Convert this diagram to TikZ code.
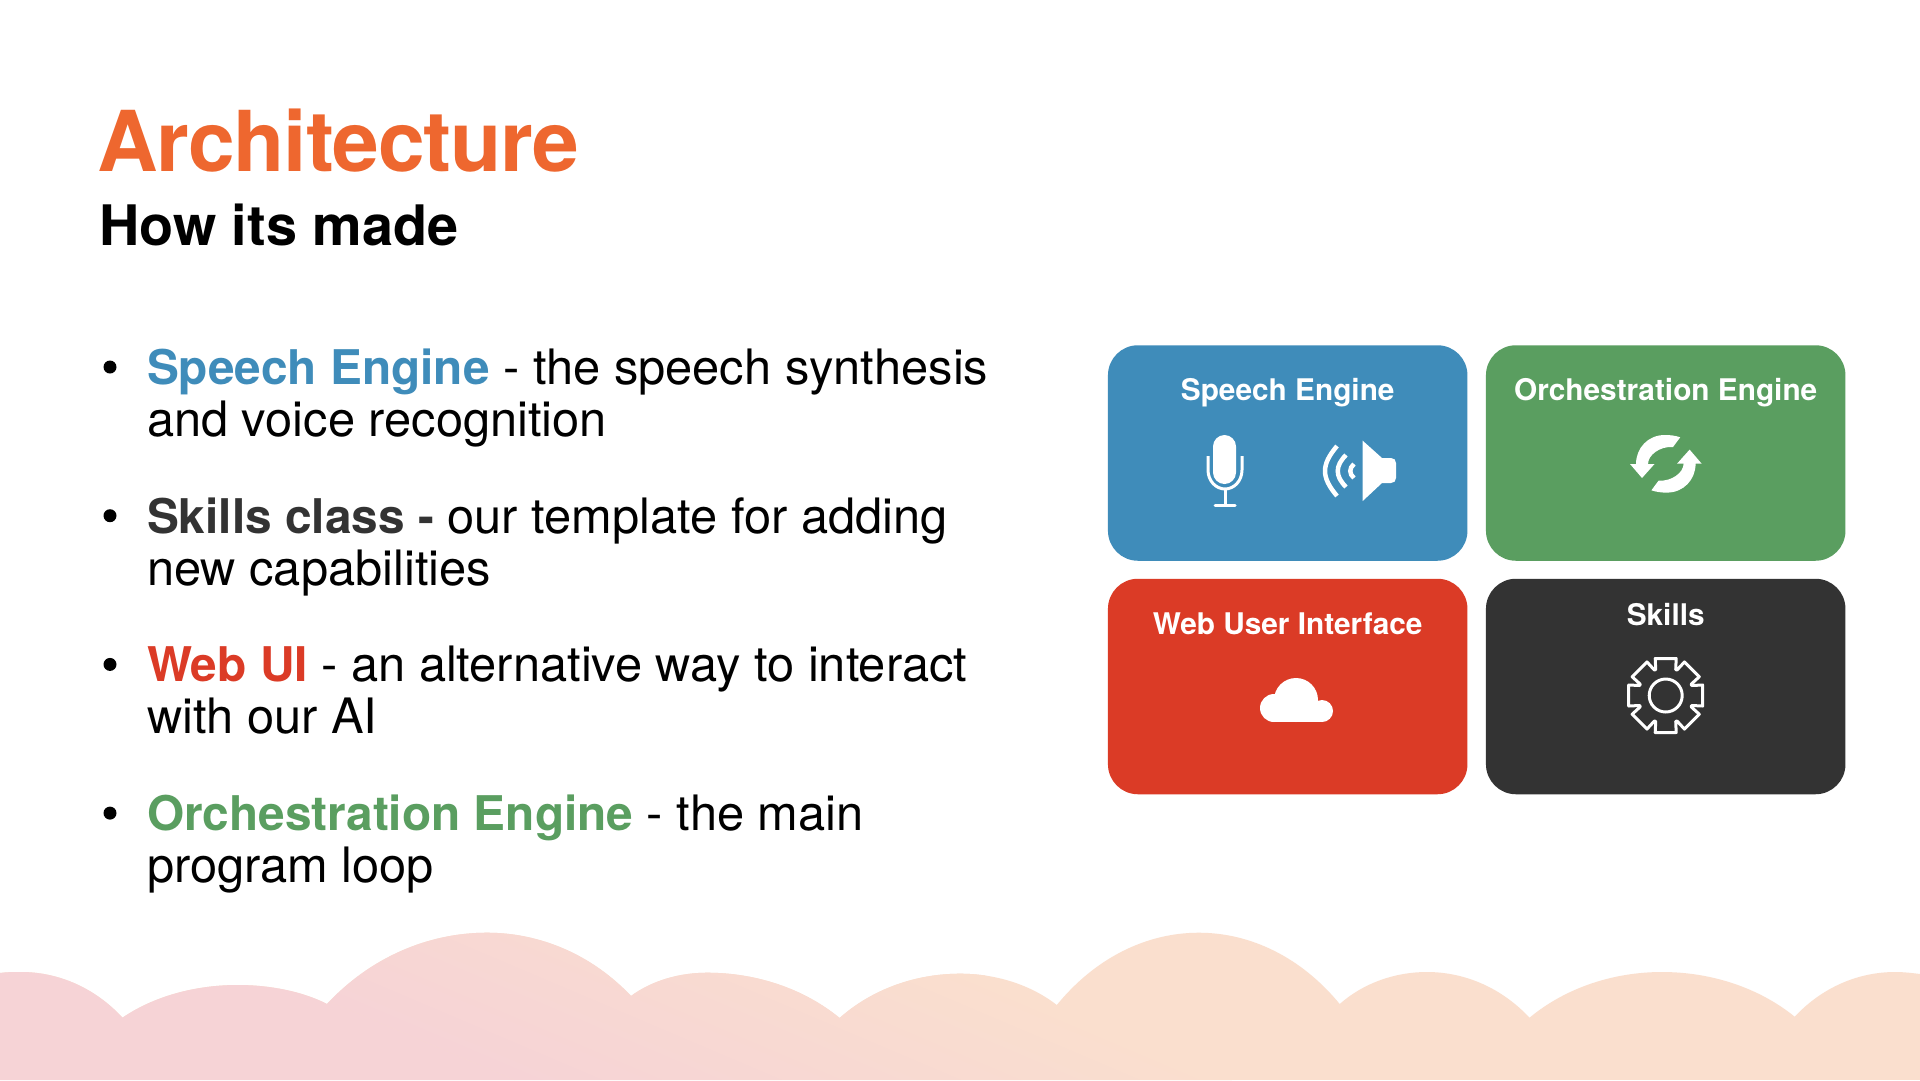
\documentclass[tikz,border=0pt]{standalone}
\usepackage{fontspec}
\setmainfont{TeX Gyre Heros}
\usetikzlibrary{positioning}

\definecolor{archorange}{HTML}{EE672F}
\definecolor{speechblue}{HTML}{3F8CBA}
\definecolor{orchgreen}{HTML}{5A9E60}
\definecolor{webred}{HTML}{DB3B26}
\definecolor{skilldark}{HTML}{333333}
\definecolor{hillpink}{HTML}{F6D3D6}
\definecolor{hillpeach}{HTML}{FADFCE}

\newcommand{\itemstrut}{\rule{0pt}{40pt}}
\newcommand{\itemlead}[2]{\textcolor{#1}{\fontsize{47.8}{52}\selectfont\bfseries #2}}

\tikzset{
  card/.style={rectangle,rounded corners=30pt,minimum width=359.5pt,minimum height=215.5pt,inner sep=0pt,outer sep=0pt},
  cardtitle/.style={text=white,inner sep=0pt,font=\fontsize{29.8}{34}\selectfont\bfseries},
  itemtext/.style={align=left,inner sep=0pt,outer sep=0pt,font=\fontsize{48.8}{52}\selectfont},
  bulletdot/.style={circle,fill=black,inner sep=0pt,minimum size=13pt},
  iconline/.style={draw=white,line width=3pt,fill=none}
}

\begin{document}
\begin{tikzpicture}[x=1pt,y=-1pt,node distance=18.5pt]
  \useasboundingbox (0,0) rectangle (1920,1080);
  \fill[white] (0,0) rectangle (1920,1080);

  % hills along the bottom
  \begin{scope}
    \clip (0,1080) -- (0,973) .. controls (7,972) and (14,972) .. (21,972)
      \foreach \px/\py/\bx/\by/\qx/\qy in {21/972/122.5/1017.7/237.6/985,
          237.6/985/327/1004/487/932.7, 487/932.7/631/996/707/972.7,
          707/972.7/839.6/1018/960/973.7, 960/973.7/1056.8/1005/1198.8/932.7,
          1198.8/932.7/1339.7/1004/1427/972, 1427/972/1529.5/1017.7/1662/972,
          1662/972/1794.7/1016.7/1895/972} {
        .. controls ({\px+0.37*(\bx-\px)},\py) and ({\bx-0.27*(\bx-\px)},{\by-0.65*(\by-\py)}) .. (\bx,\by)
        .. controls ({\bx+0.27*(\qx-\bx)},{\by-0.65*(\by-\qy)}) and ({\qx-0.37*(\qx-\bx)},\qy) .. (\qx,\qy)
      } .. controls (1904,972) and (1912,973) .. (1920,974) -- (1920,1080) -- cycle;
    \fill[hillpeach] (0,900) rectangle (1920,1080);
    \begin{scope}[transform canvas={rotate around={67:(600,975)}}]
      \fill[hillpink] (-2000,-1500) rectangle (470,3500);
      \shade[left color=hillpink,right color=hillpeach] (470,-1500) rectangle (750,3500);
    \end{scope}
  \end{scope}

  % headings
  \node[anchor=base west,inner sep=0pt,text=archorange,font=\fontsize{84}{90}\selectfont\bfseries\addfontfeature{LetterSpace=-1.4}] (title) at (97,171) {Architecture};
  \node[anchor=base west,inner sep=0pt,font=\fontsize{55.8}{60}\selectfont\bfseries] (subtitle) at (99,245) {How its made};

  % bullet list
  \node[itemtext,anchor=north west] (speechitem) at (147,344.5)
    {\itemstrut\itemlead{speechblue}{Speech Engine} - the speech synthesis\\and voice recognition};
  \node[itemtext] (skillsitem) [below=148.7pt of speechitem.north west,anchor=north west]
    {\itemstrut\itemlead{skilldark}{Skills class -} our template for adding\\new capabilities};
  \node[itemtext] (webitem) [below=148.7pt of skillsitem.north west,anchor=north west]
    {\itemstrut\itemlead{webred}{Web UI} - an alternative way to interact\\with our AI};
  \node[itemtext] (orchitem) [below=148.7pt of webitem.north west,anchor=north west]
    {\itemstrut\itemlead{orchgreen}{Orchestration Engine} - the main\\program loop};
  \foreach \itemname in {speechitem,skillsitem,webitem,orchitem}
    \node[bulletdot,name=dot\itemname] at ([xshift=-37pt,yshift=-22.5pt]\itemname.north west) {};

  % the four cards
  \node[card,fill=speechblue] (speech) at (1287.7,453) {};
  \node[card,fill=orchgreen] (orch) [right=of speech] {};
  \node[card,fill=webred] (web) [below=18pt of speech] {};
  \node[card,fill=skilldark] (skills) [right=of web] {};

  \node[cardtitle] (speechtitle) at ([yshift=-47.5pt]speech.north) {Speech Engine};
  \node[cardtitle] (orchtitle) at ([yshift=-47.5pt]orch.north) {Orchestration Engine};
  \node[cardtitle] (webtitle) at ([yshift=-45pt]web.north) {Web User Interface};
  \node[cardtitle] (skillstitle) at ([yshift=-36pt]skills.north) {Skills};

  % microphone
  \fill[white,rounded corners=11.5pt] (1213,435) rectangle (1236,484);
  \draw[iconline] (1208,456) -- (1208,470) .. controls (1208,481) and (1216,489) .. (1225,489)
    .. controls (1234,489) and (1242,481) .. (1242,470) -- (1242,456);
  \draw[iconline] (1225,489) -- (1225,505);
  \draw[iconline,line cap=round] (1215,505.5) -- (1235,505.5);

  % speaker
  \fill[white] (1362.7,440.7) -- (1382,458) -- (1391,458) .. controls (1394,458) and (1396,460) .. (1396,463)
    -- (1396,478) .. controls (1396,481) and (1394,483) .. (1391,483) -- (1382,483) -- (1362.7,501) -- cycle;
  \draw[iconline,line width=4.5pt] (1337,446) .. controls (1321,465) and (1321,477) .. (1337,496);
  \draw[iconline,line width=4.5pt] (1346,455) .. controls (1335,466) and (1335,476) .. (1346,487);
  \draw[iconline,line width=4.5pt] (1354,464) .. controls (1349,468) and (1349,474) .. (1354,478);

  % refresh arrows
  \foreach \ang in {0,180}
    \fill[white,rotate around={\ang:(1665.8,463.8)}] (1680.2,437.3) .. controls (1675,435.5) and (1670,435) .. (1664.7,435)
      .. controls (1648,435) and (1636,448) .. (1636,464) -- (1630,464) -- (1642,478) -- (1654.5,464) -- (1648,464)
      .. controls (1648,455) and (1660,446) .. (1673,447) -- cycle;

  % cloud
  \fill[white] (1296,700) circle (22);
  \fill[white] (1274,708) circle (14);
  \fill[white] (1322,711) circle (11);
  \fill[white] (1274,705) rectangle (1322,722);

  % gear
  \begin{scope}[shift={(1665.7,695.5)}]
    \draw[iconline] (0,0) circle (16.5);
    \draw[iconline,line join=round] ([rotate=0]26,10) \foreach \ang in {0,45,...,315} {
        -- ([rotate=\ang]26,10) -- ([rotate=\ang]37,10.5) -- ([rotate=\ang]37,-10.5) -- ([rotate=\ang]26,-10)
      } -- cycle;
  \end{scope}
\end{tikzpicture}
\end{document}
